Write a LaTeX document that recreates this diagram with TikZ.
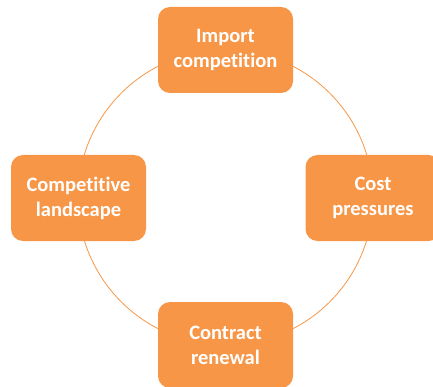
\documentclass[tikz,border=0pt]{standalone}
\usepackage{fontspec}
\setmainfont{Carlito}[Ligatures=NoCommon]
\definecolor{boxorange}{HTML}{F79646}

\begin{document}
\begin{tikzpicture}[x=1pt,y=-1pt,
    block/.style={fill=boxorange, rounded corners=12pt, minimum width=135pt,
        minimum height=86pt, align=center, text=white,
        font=\bfseries\fontsize{20.5}{25}\selectfont}]
    \useasboundingbox (0,0) rectangle (433,387);
    \coordinate (C) at (225.5,197.5);
    \draw[boxorange, line width=0.8pt] (C) circle (147.5);
    \node[block] (import) at (225.5,50) {Import\\competition};
    \node[block] (cost) at (373,198) {Cost\\pressures};
    \node[block] (contract) at (225.5,345) {Contract\\renewal};
    \node[block] (landscape) at (78.5,198) {Competitive\\landscape};
\end{tikzpicture}
\end{document}
